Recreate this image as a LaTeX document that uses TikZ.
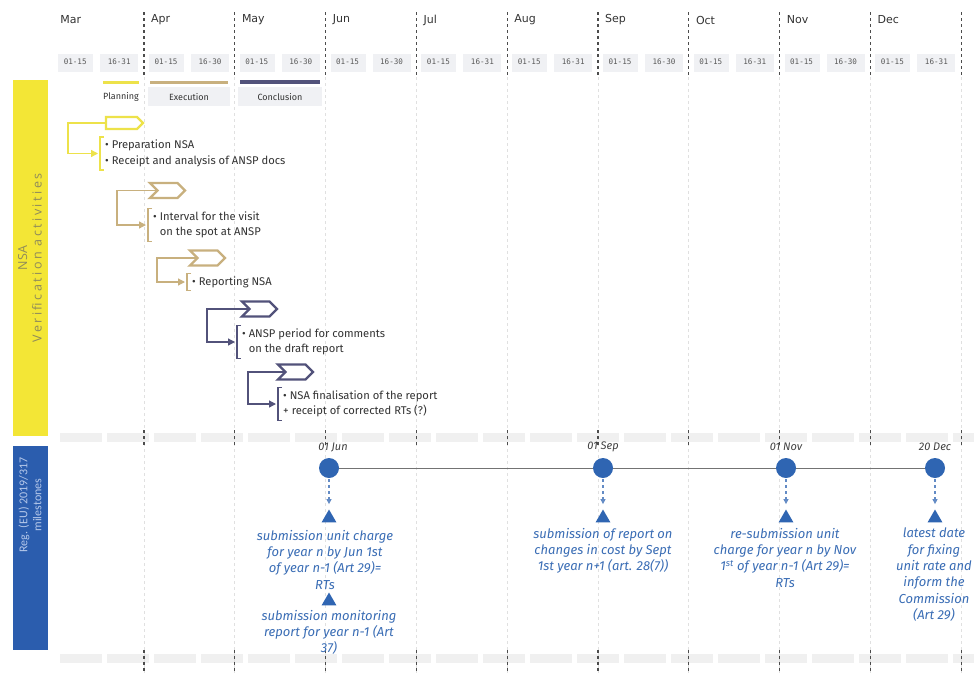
\documentclass[tikz,border=0pt]{standalone}
\usepackage{fontspec}
\setmainfont{Fira Sans}
\newfontfamily\monthfont{DejaVu Sans}
\newfontfamily\halffont{DejaVu Sans Mono}
\newfontfamily\sideA{Open Sans}
\newfontfamily\sideAsp[LetterSpace=20]{Open Sans}
\newfontfamily\sideB{Carlito}
\usetikzlibrary{arrows.meta,shapes.symbols,shapes.geometric}
\definecolor{ylw}{HTML}{EDE24A}
\definecolor{ylwbar}{HTML}{F3E636}
\definecolor{actTan}{HTML}{C8B07E}
\definecolor{actNavy}{HTML}{52527A}
\definecolor{msBlue}{HTML}{2F65B2}
\definecolor{msText}{HTML}{3A6DB5}
\definecolor{barBlue}{HTML}{2B5DAE}
\definecolor{cellGray}{HTML}{F0F1F4}
\definecolor{sideText}{HTML}{8F8B5A}
\begin{document}
\begin{tikzpicture}[x=1pt,y=-1pt,
  monthlbl/.style={font=\monthfont\fontsize{11}{13}\selectfont, text=black!80, anchor=west, inner sep=0},
  halflbl/.style={font=\halffont\fontsize{7.6}{9}\selectfont, text=black!65, inner sep=0},
  phaselbl/.style={font=\fontsize{9}{10}\selectfont, text=black!80, inner sep=0},
  chev/.style={signal, signal to=east, signal from=west, fill=white, line width=2.4pt, minimum width=35pt, minimum height=15pt, inner sep=0},
  pent/.style={signal, signal to=east, fill=white, line width=2.4pt, minimum width=37pt, minimum height=12pt, inner sep=0},
  acttext/.style={font=\fontsize{11.2}{15.5}\selectfont, text=black!80, align=left, anchor=west, inner xsep=5pt, inner ysep=3pt},
  conn/.style={line width=1.3pt, -{Triangle[length=7pt,width=7pt]}, shorten >=2pt},
  brk/.style={line width=1.3pt},
  sepdash/.style={draw=black!70, line width=1.3pt, dash pattern=on 3pt off 3pt},
  faintdash/.style={draw=black!12, line width=0.8pt, dash pattern=on 3pt off 3pt},
  msdot/.style={circle, fill=msBlue, minimum size=20pt, inner sep=0},
  mstri/.style={regular polygon, regular polygon sides=3, fill=msBlue, minimum size=17pt, inner sep=0},
  mstext/.style={font=\itshape\fontsize{13}{16.3}\selectfont, text=msText, align=center, anchor=north, inner sep=0},
  msdate/.style={font=\itshape\fontsize{11}{12}\selectfont, text=black!75, inner sep=0},
  msarr/.style={draw=msBlue!75, dashed, line width=1.1pt, -{Triangle[length=5pt,width=5pt]}, shorten >=5pt, shorten <=1pt}
]
\useasboundingbox (0,0) rectangle (974,673);
\fill[white] (0,0) rectangle (974,673);

% light gray bands
\draw[line width=9pt, draw=black!6, dash pattern=on 42pt off 5pt] (60,437) -- (974,437);
\draw[line width=9pt, draw=black!6, dash pattern=on 42pt off 5pt] (60,658) -- (974,658);

% header: months and half-months
\foreach \m/\h [count=\i from 0] in {Mar/31,Apr/30,May/30,Jun/30,Jul/31,Aug/31,Sep/30,Oct/31,Nov/30,Dec/31}{
  \pgfmathsetmacro\sx{53.2+90.8*\i}
  \fill[cellGray] (\sx+5,54) rectangle (\sx+40,72);
  \fill[cellGray] (\sx+47,54) rectangle (\sx+85,72);
  \node[monthlbl] (mon\i) at (\sx+7,20) {\m};
  \node[halflbl] (ha\i) at (\sx+22,62) {01-15};
  \node[halflbl] (hb\i) at (\sx+66,62) {16-\h};
}
% separators
\foreach \k in {1,...,10}{
  \pgfmathsetmacro\xx{53.2+90.8*\k}
  \draw[faintdash] (\xx,77) -- (\xx,673);
  \draw[sepdash] (\xx,12) -- (\xx,77);
  \draw[sepdash] (\xx,430) -- (\xx,447);
  \draw[sepdash] (\xx,650) -- (\xx,673);
}

% phase bars
\fill[cellGray] (148,87) rectangle (230,106);
\fill[cellGray] (238,87) rectangle (322,106);
\draw[ylw, line width=3pt] (103,82) -- (139,82);
\draw[actTan, line width=3pt] (150,82) -- (228,82);
\draw[actNavy, line width=3.5pt] (240,82) -- (320,82);
\node[phaselbl] (ph1) at (121,97) {Planning};
\node[phaselbl] (ph2) at (189,97) {Execution};
\node[phaselbl] (ph3) at (280,97) {Conclusion};

% side bars
\fill[ylwbar] (13,80) rectangle (48,436);
\node[rotate=90, align=center, font=\sideA\fontsize{12.5}{14.5}\selectfont, text=sideText] (sideNSA) at (30,258) {NSA\\{\sideAsp Verification activities}};
\fill[barBlue] (13,446) rectangle (48,650);
\node[rotate=90, align=center, font=\sideB\fontsize{12}{14}\selectfont, text={rgb,255:red,181;green,200;blue,234}] (sideReg) at (30,505) {Reg. (EU) 2019/317\\milestones};

% activities
\node[pent, draw=ylw] (c1) at (121.5,123) {};
\node[acttext] (t1) at (100,153.5) {• Preparation NSA\\• Receipt and analysis of ANSP docs};
\coordinate (e1) at (68,123);
\draw[brk, ylw] ([xshift=4pt]t1.north west) -- (t1.north west) -- (t1.south west) -- ([xshift=4pt]t1.south west);
\draw[conn, ylw] (c1.west) -- (e1) |- (t1.west);

\node[chev, draw=actTan] (c2) at (167.5,190.5) {};
\node[acttext] (t2) at (148,225) {• Interval for the visit\\\phantom{• }on the spot at ANSP};
\coordinate (e2) at (117,190.5);
\draw[brk, actTan] ([xshift=4pt]t2.north west) -- (t2.north west) -- (t2.south west) -- ([xshift=4pt]t2.south west);
\draw[conn, actTan] (c2.west) -- (e2) |- (t2.west);

\node[chev, draw=actTan] (c3) at (207.5,258) {};
\node[acttext] (t3) at (187,282) {• Reporting NSA};
\coordinate (e3) at (157,258);
\draw[brk, actTan] ([xshift=4pt]t3.north west) -- (t3.north west) -- (t3.south west) -- ([xshift=4pt]t3.south west);
\draw[conn, actTan] (c3.west) -- (e3) |- (t3.west);

\node[chev, draw=actNavy] (c4) at (259.5,309) {};
\node[acttext] (t4) at (237,342) {• ANSP period for comments\\\phantom{• }on the draft report};
\coordinate (e4) at (207,309);
\draw[brk, actNavy] ([xshift=4pt]t4.north west) -- (t4.north west) -- (t4.south west) -- ([xshift=4pt]t4.south west);
\draw[conn, actNavy] (c4.west) -- (e4) |- (t4.west);

\node[chev, draw=actNavy] (c5) at (295.5,372) {};
\node[acttext] (t5) at (278,404) {• NSA finalisation of the report\\+ receipt of corrected RTs (?)};
\coordinate (e5) at (248,372);
\draw[brk, actNavy] ([xshift=4pt]t5.north west) -- (t5.north west) -- (t5.south west) -- ([xshift=4pt]t5.south west);
\draw[conn, actNavy] (c5.west) -- (e5) |- (t5.west);

% milestones
\node[msdot] (m1) at (329,468) {};
\node[msdot] (m2) at (603,468) {};
\node[msdot] (m3) at (786,468) {};
\node[msdot] (m4) at (935,468) {};
\draw[black!55, line width=0.8pt] (m1.east) -- (m2.west) (m2.east) -- (m3.west) (m3.east) -- (m4.west);
\node[msdate] (d1) at (333,447) {01 Jun};
\node[msdate] (d2) at (603,447) {01 Sep};
\node[msdate] (d3) at (786,447) {01 Nov};
\node[msdate] (d4) at (935,447) {20 Dec};

\node[mstri] (tr1) at (329,518) {};
\node[mstri] (tr1b) at (329,601) {};
\node[mstri] (tr2) at (603,518) {};
\node[mstri] (tr3) at (786,518) {};
\node[mstri] (tr4) at (935,518) {};
\draw[msarr] (m1.south) -- (tr1.north);
\draw[msarr] (m2.south) -- (tr2.north);
\draw[msarr] (m3.south) -- (tr3.north);
\draw[msarr] (m4.south) -- (tr4.north);

\node[mstext] (x1) at (325,530) {submission unit charge\\for year n by Jun 1st\\of year n-1 (Art 29)=\\RTs};
\node[mstext] (x1b) at (329,610) {submission monitoring\\report for year n-1 (Art\\37)};
\node[mstext] (x2) at (603,528) {submission of report on\\changes in cost by Sept\\1st year n+1 (art. 28(7))};
\node[mstext] (x3) at (785,528) {re-submission unit\\charge for year n by Nov\\1\textsuperscript{st} of year n-1 (Art 29)=\\RTs};
\node[mstext] (x4) at (934,528) {latest date\\for fixing\\unit rate and\\inform the\\Commission\\(Art 29)};
\end{tikzpicture}
\end{document}
